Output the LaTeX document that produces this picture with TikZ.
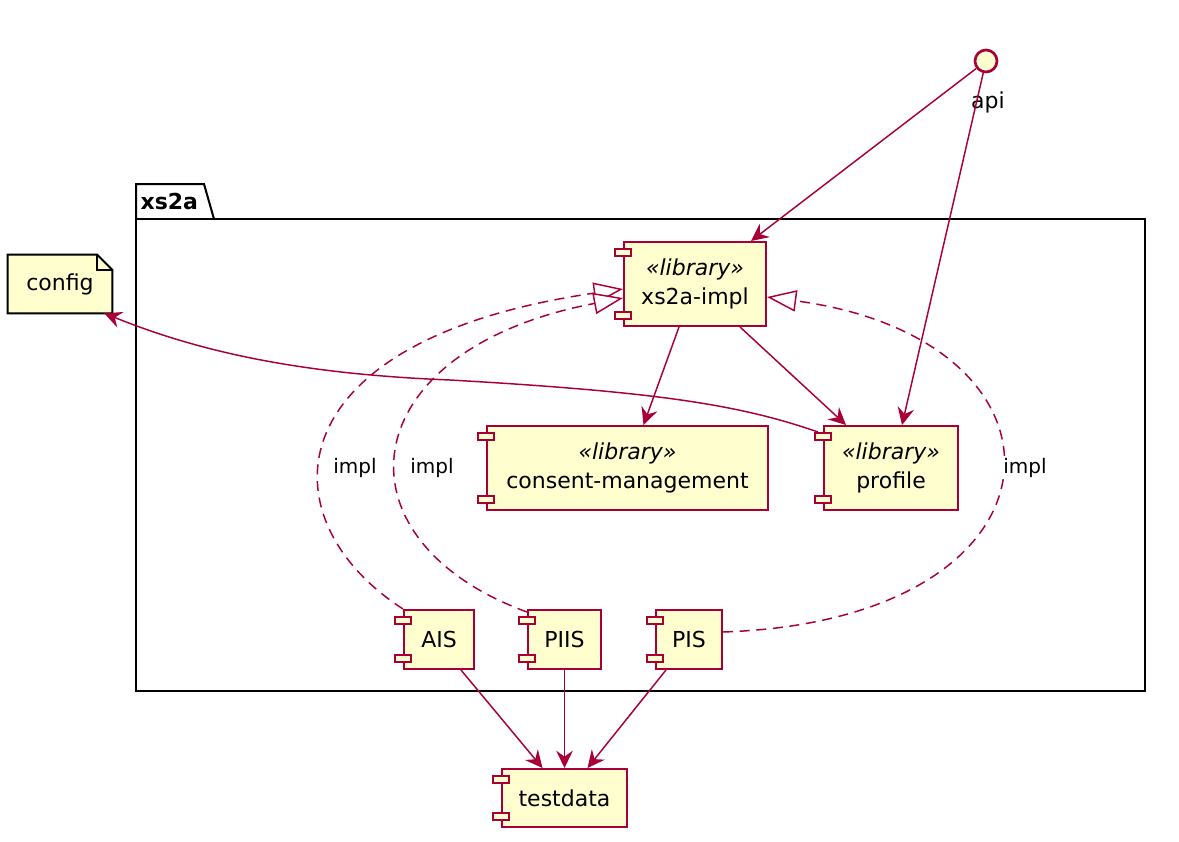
\documentclass[tikz,border=0pt]{standalone}
\usepackage{fontspec}
\setmainfont{DejaVu Sans}
\usetikzlibrary{arrows.meta,calc}
\definecolor{uborder}{HTML}{A80036}
\definecolor{ufill}{HTML}{FEFECE}
\begin{document}
\begin{tikzpicture}[x=0.75pt,y=-0.75pt,
  comp/.style={draw=uborder, fill=ufill, line width=1.5pt, inner sep=0pt, align=center, font=\fontsize{16.5}{21.5}\selectfont},
  tab/.style={draw=uborder, fill=ufill, line width=1.5pt},
  arr/.style={draw=uborder, line width=1.1pt, -{Stealth[length=13pt,width=12.5pt,inset=4.5pt]}},
  real/.style={draw=uborder, line width=1.1pt, dash pattern=on 7.5pt off 5pt, -{Triangle[open,length=22pt,width=16pt,fill=white]}},
  lbl/.style={font=\fontsize{15}{18}\selectfont, inner sep=1pt},
  txt/.style={font=\fontsize{16.5}{20}\selectfont, inner sep=1pt}]
\useasboundingbox (0,0) rectangle (1179,842);
% package
\draw[black, line width=1.5pt] (136,219) -- (136,184) -- (204,184) -- (214,219);
\draw[black, line width=1.5pt] (136,219) rectangle (1145,691);
\node[txt, font=\bfseries\fontsize{16.5}{20}\selectfont, anchor=west] (pkg) at (139,201) {xs2a};
% components
\node[comp, minimum width=106.5pt, minimum height=63pt] (xs2a) at (695,284) {\textit{«library»}\\xs2a-impl};
\node[comp, minimum width=210.75pt, minimum height=63pt] (cm) at (627.5,468) {\textit{«library»}\\consent-management};
\node[comp, minimum width=100.5pt, minimum height=63pt] (profile) at (891,468) {\textit{«library»}\\profile};
\node[comp, minimum width=52.5pt, minimum height=44.25pt] (AIS) at (439,639.5) {AIS};
\node[comp, minimum width=54.75pt, minimum height=44.25pt] (PIIS) at (564.5,639.5) {PIIS};
\node[comp, minimum width=49.5pt, minimum height=44.25pt] (PIS) at (689,639.5) {PIS};
\node[comp, minimum width=93.75pt, minimum height=43.5pt] (testdata) at (564.5,798) {testdata};
\foreach \c in {xs2a,cm,profile,AIS,PIIS,PIS,testdata}{
  \draw[tab] ($(\c.north west)+(-8,8)$) rectangle ($(\c.north west)+(8,15)$);
  \draw[tab] ($(\c.south west)+(-8,-15)$) rectangle ($(\c.south west)+(8,-8)$);
}
% note
\node[txt, minimum width=78pt, minimum height=43.5pt, inner sep=0pt] (config) at (60,284) {config};
\draw[black, fill=ufill, line width=1.5pt] (config.north west) -- ($(config.north east)+(-15,0)$) -- ($(config.north east)+(0,15)$) -- (config.south east) -- (config.south west) -- cycle;
\draw[black, line width=1.2pt] ($(config.north east)+(-15,0)$) -- ($(config.north east)+(-15,15)$) -- ($(config.north east)+(0,15)$);
\node[txt] at (config) {config};
% interface
\node[circle, draw=uborder, fill=ufill, line width=2pt, minimum size=16.5pt, inner sep=0pt] (api) at (986,61) {};
\node[txt] (apil) at (988,102) {api};
% connectors
\draw[arr] (api) -- ($(xs2a.north east)+(-16,0)$);
\draw[arr] (api) -- ($(profile.north)+(11,0)$);
\draw[arr] ($(xs2a.south)+(-16,0)$) -- ($(cm.north)+(16,0)$);
\draw[arr] ($(xs2a.south)+(45,0)$) -- ($(profile.north)+(-45,0)$);
\draw[arr] ($(AIS.south)+(22,0)$) -- ($(testdata.north)+(-22,0)$);
\draw[arr] (PIIS.south) -- (testdata.north);
\draw[arr] ($(PIS.south)+(-23,0)$) -- ($(testdata.north)+(23,0)$);
\draw[arr] ($(profile.north west)+(-5,7)$) .. controls (740,405) and (660,392) .. (450,380) .. controls (300,374) and (200,352) .. ($(config.south east)+(-8,0)$);
% realizations
\draw[real] (AIS.north west) .. controls (265,520) and (270,340) .. ($(xs2a.west)+(0,5)$);
\draw[real] ($(PIIS.north west)+(0,3)$) .. controls (330,540) and (350,350) .. ($(xs2a.west)+(0,14)$);
\draw[real] ($(PIS.east)+(0,-7.5)$) .. controls (1080,620) and (1090,340) .. ($(xs2a.east)+(0,13)$);
\node[lbl, fill=white] (l1) at (355,468) {impl};
\node[lbl, fill=white] (l2) at (432,468) {impl};
\node[lbl, fill=white] (l3) at (1025,468) {impl};
\end{tikzpicture}
\end{document}
